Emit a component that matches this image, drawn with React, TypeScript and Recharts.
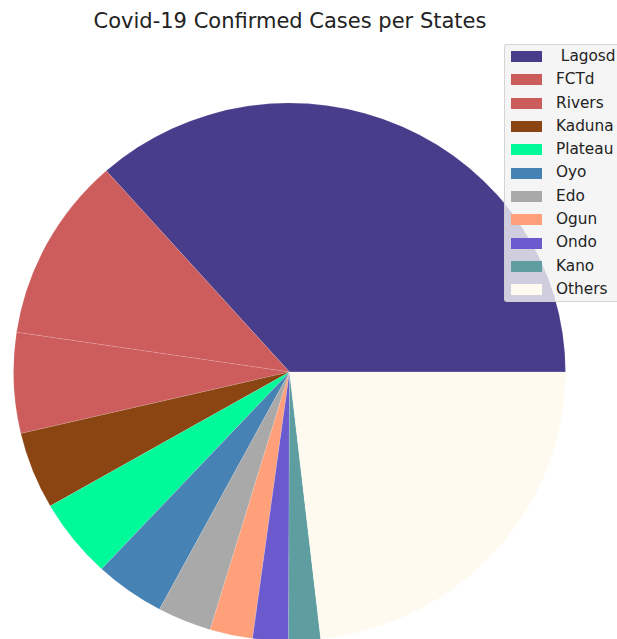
import React from "react";
import { PieChart, Pie, Cell, Legend } from "recharts";

const states = ["Lagosd", "FCTd", "Rivers", "Kaduna", "Plateau", "Oyo", "Edo", "Ogun", "Ondo", "Kano", "Others"];
const cases = [13160, 3990, 2170, 1670, 1720, 1480, 1140, 900, 750, 670, 8350];
const colors = ["#483D8B", "#CD5C5C", "#CD5C5C", "#8B4513", "#00FA9A", "#4682B4", "#A9A9A9", "#FFA07A", "#6A5ACD", "#5F9EA0", "#FFFAF0"];
const legendLabels = [" Lagosd", "FCTd", "Rivers", "Kaduna", "Plateau", "Oyo", "Edo", "Ogun", "Ondo", "Kano", "Others"];

const data = states.map((s, i) => ({ name: s, value: cases[i] }));

const FONT = "'DejaVu Sans', sans-serif";

const LegendBox = () => (
  <div
    style={{
      background: "rgba(242,242,242,0.8)",
      border: "1px solid rgba(204,204,204,0.8)",
      borderRight: "none",
      borderRadius: "3px 0 0 3px",
      width: 113,
      height: 258,
      boxSizing: "border-box",
      paddingTop: 0,
      fontFamily: FONT,
      fontSize: 15.3,
      color: "#222",
    }}
  >
    {legendLabels.map((lab, i) => (
      <div key={i} style={{ height: 23.3, display: "flex", alignItems: "center", whiteSpace: "pre" }}>
        <span style={{ display: "inline-block", width: 31, height: 11, background: colors[i], marginLeft: 6 }} />
        <span style={{ marginLeft: 14, lineHeight: 1 }}>{lab}</span>
      </div>
    ))}
  </div>
);

export default function App() {
  return (
    <div style={{ position: "absolute", left: 0, top: 0, width: 617, height: 639, overflow: "hidden", background: "#fff" }}>
      <style>{`.recharts-pie { transform-origin: 289.5px 372px; transform: scaleY(0.9746); }`}</style>
      <div
        style={{
          position: "absolute",
          left: 0,
          width: 580,
          top: 11,
          textAlign: "center",
          fontFamily: FONT,
          fontSize: 21,
          lineHeight: "21px",
          color: "#222",
          whiteSpace: "nowrap",
        }}
      >
        Covid-19 Confirmed Cases per States
      </div>
      <PieChart width={617} height={639} margin={{ top: 0, right: 0, bottom: 0, left: 0 }}>
        <Pie
          data={data}
          dataKey="value"
          nameKey="name"
          cx={289.5}
          cy={372}
          innerRadius={0}
          outerRadius={276}
          startAngle={0}
          endAngle={360}
          stroke="rgba(255,255,255,0.25)"
          strokeWidth={0.5}
          isAnimationActive={false}
        >
          {data.map((d, i) => (
            <Cell key={d.name} fill={colors[i]} />
          ))}
        </Pie>
        <Legend
          layout="vertical"
          align="right"
          verticalAlign="top"
          content={() => <LegendBox />}
          wrapperStyle={{ position: "absolute", left: 504, top: 44, width: 113 }}
        />
      </PieChart>
    </div>
  );
}
